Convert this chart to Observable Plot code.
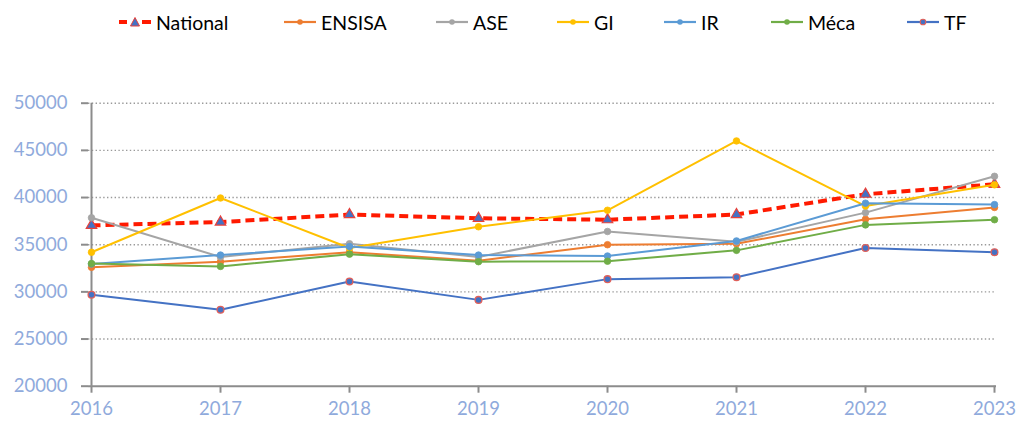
<!DOCTYPE html>
<html>
<head>
<meta charset="utf-8">
<script src="https://cdn.jsdelivr.net/npm/d3@7"></script>
<script src="https://cdn.jsdelivr.net/npm/@observablehq/plot@0.6"></script>
<style>
  html, body { margin: 0; padding: 0; background: #fff; width: 1019px; height: 423px; overflow: hidden; }
  #legend { position: relative; height: 45px; width: 1019px; font-family: Lato, sans-serif; font-size: 19.5px; color: #000; }
  .item { position: absolute; top: 8px; display: flex; align-items: center; height: 28px; }
  .item svg { margin-right: 5px; }
</style>
</head>
<body>
<div id="legend"></div>
<div id="chart"></div>
<script>
const years = ["2016", "2017", "2018", "2019", "2020", "2021", "2022", "2023"];
const seriesNames = ["National", "ENSISA", "ASE", "GI", "IR", "Méca", "TF"];
const national = [37050, 37400, 38200, 37800, 37650, 38200, 40350, 41400];
const ensisa   = [32600, 33200, 34200, 33300, 35000, 35100, 37700, 38950];
const ase      = [37850, 33700, 35100, 33700, 36400, 35300, 38400, 42250];
const gi       = [34200, 39950, 34650, 36900, 38650, 46000, 39100, 41350];
const ir       = [32950, 33900, 34800, 33900, 33800, 35400, 39400, 39250];
const meca     = [33000, 32700, 34000, 33200, 33250, 34400, 37100, 37650];
const tf       = [29700, 28100, 31100, 29150, 31350, 31550, 34650, 34200];
const yTicks = [20000, 25000, 30000, 35000, 40000, 45000, 50000];
const gridTicks = [25000, 30000, 35000, 40000, 45000, 50000];

const colors = {
  "National": "#FF1A00", "ENSISA": "#ED7D31", "ASE": "#A5A5A5", "GI": "#FFC000",
  "IR": "#5B9BD5", "Méca": "#70AD47", "TF": "#4472C4"
};
const valuesBy = { "National": national, "ENSISA": ensisa, "ASE": ase, "GI": gi, "IR": ir, "Méca": meca, "TF": tf };

const rows = s => years.map((y, i) => ({ year: y, value: valuesBy[s][i], series: s }));

const labelColor = "#8FAADC";
const axisColor = "#8C8C8C";

const marks = [
  Plot.ruleY(gridTicks, { y: d => d, stroke: "#9A9A9A", strokeWidth: 1.4, strokeDasharray: "1.4,2.4" }),
  Plot.ruleX([years[0]], { x: d => d, y1: yTicks[0], y2: yTicks[yTicks.length - 1], stroke: axisColor, strokeWidth: 2 }),
  Plot.ruleY([yTicks[0]], { y: d => d, stroke: axisColor, strokeWidth: 2 }),
  Plot.axisY({ ticks: yTicks, tickSize: 7, tickPadding: 14, stroke: axisColor, strokeWidth: 2, fill: labelColor, tickFormat: d => String(d), fontSize: 18.5 }),
  Plot.axisX({ ticks: years, tickSize: 7, tickPadding: 9, stroke: axisColor, strokeWidth: 2, fill: labelColor, fontSize: 18.5 }),
  // National
  Plot.line(rows("National"), { x: "year", y: "value", stroke: colors["National"], strokeWidth: 4, strokeDasharray: "9,5", strokeLinecap: "butt", strokeLinejoin: "miter" }),
  Plot.dot(rows("National"), { x: "year", y: "value", symbol: "triangle", r: 3.9, fill: "#4472C4", stroke: "#E8403A", strokeWidth: 1.2 })
];
for (const s of seriesNames.slice(1)) {
  marks.push(Plot.line(rows(s), { x: "year", y: "value", stroke: colors[s], strokeWidth: 2 }));
  if (s === "TF") {
    marks.push(Plot.dot(rows(s), { x: "year", y: "value", r: 3.4, fill: "#4472C4", stroke: "#E0605A", strokeWidth: 1.3 }));
  } else {
    marks.push(Plot.dot(rows(s), { x: "year", y: "value", r: 3.3, fill: colors[s], stroke: colors[s], strokeWidth: 0.8 }));
  }
}

const chart = Plot.plot({
  width: 1019,
  height: 378,
  marginLeft: 88,
  marginRight: 23,
  marginTop: 57.7,
  marginBottom: 37.3,
  style: { fontFamily: "Lato, sans-serif", background: "#fff", overflow: "visible" },
  x: { type: "point", domain: years, padding: 0, label: null },
  y: { domain: [yTicks[0], yTicks[yTicks.length - 1]], label: null },
  marks
});
document.getElementById("chart").appendChild(chart);

// Legend
const legendLeft = { "National": 119, "ENSISA": 284, "ASE": 436, "GI": 557, "IR": 664, "Méca": 771, "TF": 907 };
const legend = document.getElementById("legend");
for (const s of seriesNames) {
  const item = document.createElement("div");
  item.className = "item";
  item.style.left = legendLeft[s] + "px";
  let sw;
  if (s === "National") {
    sw = `<svg width="32" height="14"><line x1="0" y1="7" x2="8" y2="7" stroke="${colors[s]}" stroke-width="4"/><line x1="23" y1="7" x2="32" y2="7" stroke="${colors[s]}" stroke-width="4"/><path d="M16,2.5 L20.5,11 L11.5,11 Z" fill="#4472C4" stroke="#E8403A" stroke-width="1"/></svg>`;
  } else if (s === "TF") {
    sw = `<svg width="32" height="14"><line x1="0" y1="7" x2="32" y2="7" stroke="${colors[s]}" stroke-width="2.2"/><circle cx="16" cy="7" r="2.8" fill="#4472C4" stroke="#E0605A" stroke-width="1.1"/></svg>`;
  } else {
    sw = `<svg width="32" height="14"><line x1="0" y1="7" x2="32" y2="7" stroke="${colors[s]}" stroke-width="2.2"/><circle cx="16" cy="7" r="2.8" fill="${colors[s]}"/></svg>`;
  }
  item.innerHTML = sw + `<span>${s}</span>`;
  legend.appendChild(item);
}
</script>
</body>
</html>
